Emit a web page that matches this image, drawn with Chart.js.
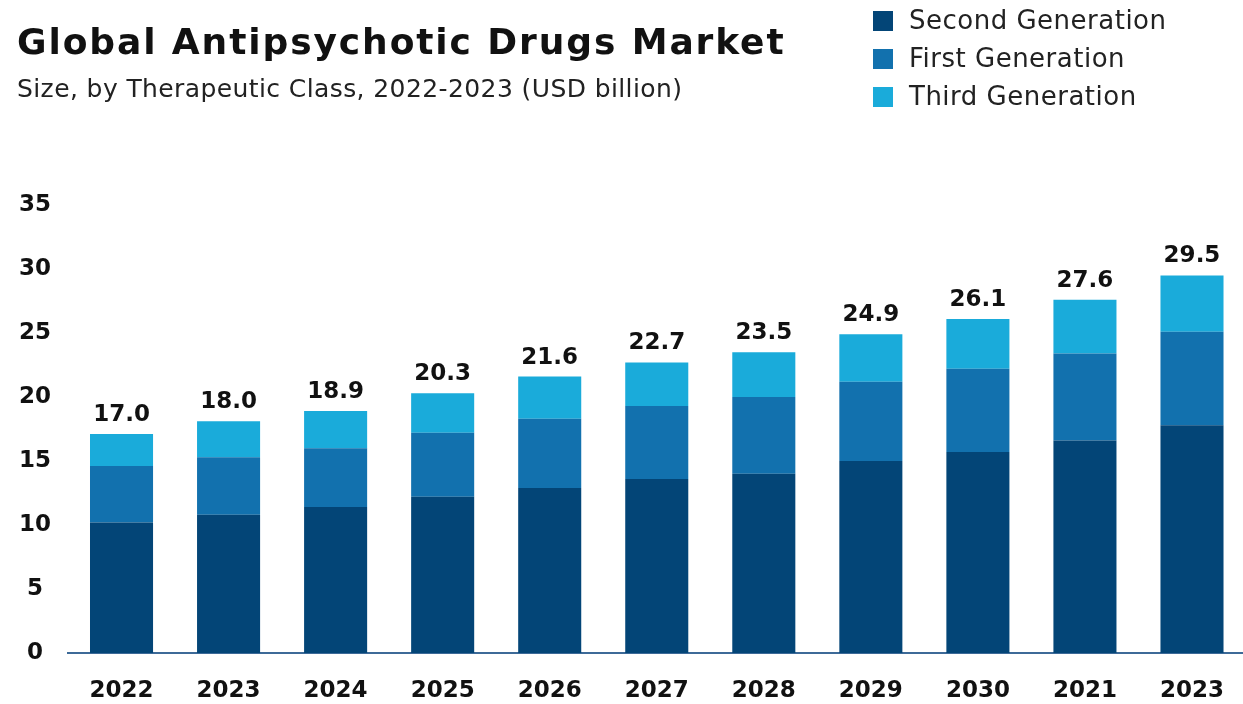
<!DOCTYPE html>
<html>
<head>
<meta charset="utf-8">
<script src="https://cdn.jsdelivr.net/npm/chart.js@4"></script>
<style>
  html, body { margin: 0; padding: 0; background: #fff; overflow: hidden; }
  #wrap { position: relative; width: 1243px; height: 704px; overflow: hidden; }
  #title { position: absolute; left: 17px; top: 24px; font-family: "DejaVu Sans", sans-serif; font-weight: bold; font-size: 36px; letter-spacing: 1.9px; color: #111; white-space: nowrap; line-height: 1; }
  #subtitle { position: absolute; left: 17px; top: 76px; font-family: "DejaVu Sans", sans-serif; font-size: 25px; letter-spacing: 0.4px; color: #222; white-space: nowrap; line-height: 1; }
  #legend { position: absolute; left: 873px; top: 9px; font-family: "DejaVu Sans", sans-serif; font-size: 26px; letter-spacing: 0.5px; color: #222; }
  .row { position: relative; height: 38px; }
  .sw { position: absolute; left: 0; top: 2px; width: 20px; height: 20px; }
  .lt { position: absolute; left: 36px; top: -5px; white-space: nowrap; line-height: 32px; }
  canvas { position: absolute; left: 0; top: 0; }
</style>
</head>
<body>
<div id="wrap">
  <canvas id="c" width="1248" height="704" style="width:1248px;height:704px"></canvas>
  <div id="title">Global Antipsychotic Drugs Market</div>
  <div id="subtitle">Size, by Therapeutic Class, 2022-2023 (USD billion)</div>
  <div id="legend"></div>
</div>
<script>
const categories = ["2022","2023","2024","2025","2026","2027","2028","2029","2030","2021","2023"];
const secondGen = [10.2, 10.8, 11.4, 12.2, 12.9, 13.6, 14.0, 15.0, 15.7, 16.6, 17.8];
const firstGen  = [4.4, 4.5, 4.6, 5.0, 5.4, 5.7, 6.0, 6.2, 6.5, 6.8, 7.3];
const thirdGen  = [2.5, 2.8, 2.9, 3.1, 3.3, 3.4, 3.5, 3.7, 3.9, 4.2, 4.4];
const totalLabels = ["17.0","18.0","18.9","20.3","21.6","22.7","23.5","24.9","26.1","27.6","29.5"];
const yTicks = [0, 5, 10, 15, 20, 25, 30, 35];
const seriesNames = ["Second Generation","First Generation","Third Generation"];
const seriesColors = ["#034577","#1271ae","#1aabda"];

const legend = document.getElementById('legend');
seriesNames.forEach((n, i) => {
  const r = document.createElement('div'); r.className = 'row';
  const s = document.createElement('div'); s.className = 'sw'; s.style.background = seriesColors[i];
  const t = document.createElement('div'); t.className = 'lt'; t.textContent = n;
  r.appendChild(s); r.appendChild(t); legend.appendChild(r);
});

const totalsPlugin = {
  id: 'totals',
  afterDatasetsDraw(chart) {
    const ctx = chart.ctx;
    const meta = chart.getDatasetMeta(chart.data.datasets.length - 1);
    ctx.save();
    ctx.font = 'bold 23px "DejaVu Sans", sans-serif';
    ctx.fillStyle = '#111';
    ctx.textAlign = 'center';
    ctx.textBaseline = 'alphabetic';
    meta.data.forEach((bar, i) => {
      ctx.fillText(totalLabels[i], bar.x, bar.y - 13);
    });
    ctx.restore();
  }
};

new Chart(document.getElementById('c'), {
  type: 'bar',
  data: {
    labels: categories,
    datasets: [
      { label: seriesNames[0], data: secondGen, backgroundColor: seriesColors[0] },
      { label: seriesNames[1], data: firstGen, backgroundColor: seriesColors[1] },
      { label: seriesNames[2], data: thirdGen, backgroundColor: seriesColors[2] }
    ]
  },
  options: {
    responsive: false,
    animation: false,
    devicePixelRatio: 1,
    layout: { padding: { top: 205, right: 0, bottom: 0, left: 0 } },
    plugins: { legend: { display: false }, tooltip: { enabled: false }, title: { display: false } },
    datasets: { bar: { categoryPercentage: 1.0, barPercentage: 0.589, borderWidth: 0 } },
    scales: {
      x: {
        stacked: true,
        afterFit(scale) { scale.height = 51; },
        grid: { display: false, drawTicks: false },
        border: { display: true, color: '#3d6a98', width: 2 },
        ticks: { color: '#111', font: { family: '"DejaVu Sans", sans-serif', weight: 'bold', size: 23 }, padding: 24, maxRotation: 0, autoSkip: false }
      },
      y: {
        stacked: true,
        min: 0, max: 35,
        afterBuildTicks(scale) { scale.ticks = yTicks.map(v => ({ value: v })); },
        afterFit(scale) { scale.width = 68; },
        grid: { display: false, drawTicks: false },
        border: { display: false },
        ticks: { color: '#111', crossAlign: 'center', padding: 17, font: { family: '"DejaVu Sans", sans-serif', weight: 'bold', size: 23 } }
      }
    }
  },
  plugins: [totalsPlugin]
});
</script>
</body>
</html>
